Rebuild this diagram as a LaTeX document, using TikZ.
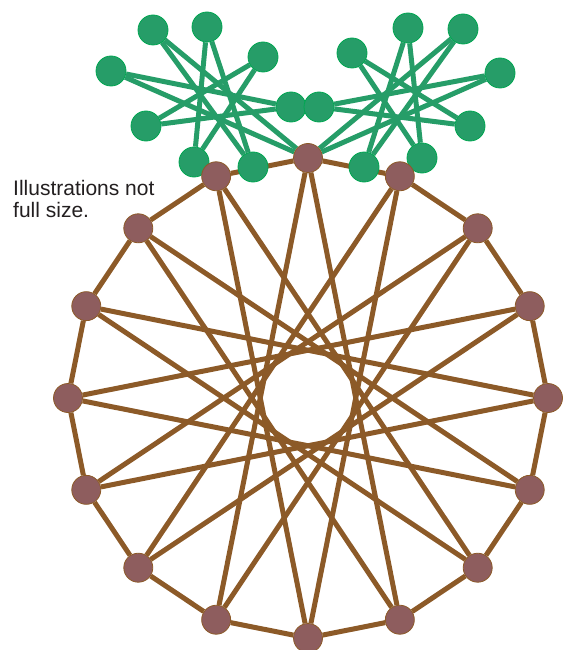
\documentclass[tikz,border=0pt]{standalone}
\usepackage{fontspec}
\setmainfont{Liberation Sans}
\usepackage{tikz}
\usetikzlibrary{backgrounds}

\definecolor{gfill}{RGB}{38,157,104}
\definecolor{gline}{RGB}{0,166,81}
\definecolor{bline}{RGB}{140,90,40}
\definecolor{bfill}{RGB}{142,93,94}
\definecolor{notegray}{RGB}{35,31,32}

\tikzset{
  gnode/.style={circle, fill=gfill, draw=gline, line width=0.8pt, minimum size=30pt, inner sep=0pt},
  bnode/.style={circle, fill=bfill, draw=bline, line width=0.8pt, minimum size=29pt, inner sep=0pt},
  gedge/.style={draw=gfill, line width=5pt},
  bedge/.style={draw=bline, line width=5pt}
}

\begin{document}
\begin{tikzpicture}[x=1pt, y=-1pt]
\useasboundingbox (0,0) rectangle (567,650);

\node[anchor=north west, inner sep=0pt, align=left, text=notegray,
  font=\fontsize{21}{22.5}\selectfont] (note) at (13,180) {Illustrations not\\full size.};

% left green star
\node[gnode] (l1) at (207,27) {};
\node[gnode] (l2) at (263,57) {};
\node[gnode] (l3) at (291,107) {};
\node[gnode] (l4) at (253,167) {};
\node[gnode] (l5) at (194,162) {};
\node[gnode] (l6) at (146,126) {};
\node[gnode] (l7) at (111,71) {};
\node[gnode] (l8) at (153,30) {};

% right green star
\node[gnode] (r1) at (408,28) {};
\node[gnode] (r2) at (463,29) {};
\node[gnode] (r3) at (500,73) {};
\node[gnode] (r4) at (470,126) {};
\node[gnode] (r5) at (422,158) {};
\node[gnode] (r6) at (364,167) {};
\node[gnode] (r7) at (319,107) {};
\node[gnode] (r8) at (352,53) {};

% brown ring
\foreach \i in {0,...,15}
  \node[bnode] (b\i) at ({308+240*sin(22.5*\i)}, {398-240*cos(22.5*\i)}) {};

\begin{scope}[on background layer]
\foreach \i in {0,...,15}{
  \pgfmathtruncatemacro{\j}{mod(\i+1,16)}
  \pgfmathtruncatemacro{\k}{mod(\i+7,16)}
  \draw[bedge] (b\i) -- (b\j);
  \draw[bedge] (b\i) -- (b\k);
}
\foreach \a/\b in {l1/l4, l2/l5, l3/l6, b0/l7, l4/l8, l5/l1, l6/l2, l7/l3, l8/b0}
  \draw[gedge] (\a) -- (\b);
\foreach \a/\b in {r1/r5, r2/r6, r3/b0, r4/r7, r5/r8, r6/r1, b0/r2, r7/r3, r8/r4}
  \draw[gedge] (\a) -- (\b);
\end{scope}
\end{tikzpicture}
\end{document}
